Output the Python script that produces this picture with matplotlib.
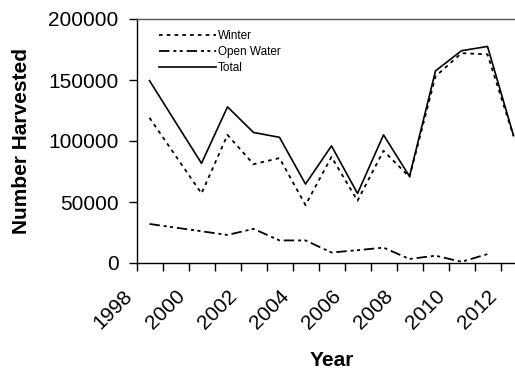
import matplotlib
matplotlib.use('Agg')
import matplotlib.pyplot as plt
import matplotlib.transforms as mtransforms

plt.rcParams['font.family'] = ['Liberation Sans', 'DejaVu Sans']
plt.rcParams['lines.scale_dashes'] = False

years = list(range(1998, 2013))
winter = [119000, 88000, 57000, 105000, 81000, 86000, 47500, 87000,
          51000, 92000, 70500, 153000, 172000, 171000, 104000]
open_water = [32000, 29000, 26000, 23000, 28000, 18500, 18500, 8600,
              10500, 12600, 3300, 6000, 1000, 7300, None]
total = [149500, 115500, 81700, 128000, 107000, 103000, 64700, 96000,
         57000, 105000, 71000, 157500, 174000, 177500, 104500]

tick_years = [str(y) if y % 2 == 0 else '' for y in years]

fig = plt.figure(figsize=(5.15, 3.69), dpi=100)
ax = fig.add_axes([136.5 / 515, 1 - 263 / 369, 390 / 515, 244 / 369])

x = list(range(len(years)))
ow_x = [i for i, v in zip(x, open_water) if v is not None]
ow_y = [v for v in open_water if v is not None]

ax.plot(x, winter, color='black', lw=1.3, dashes=(2.6, 3.0), label='Winter')
ax.plot(ow_x, ow_y, color='black', lw=1.3,
        dashes=(7.5, 2.8, 2.2, 2.4, 2.2, 2.8), label='Open Water')
ax.plot(x, total, color='black', lw=1.2, label='Total')

ax.set_xlim(-0.5, len(years) - 0.5)
ax.set_ylim(0, 200000)
ax.set_yticks([0, 50000, 100000, 150000, 200000])
ax.set_yticklabels(['0', '50000', '100000', '150000', '200000'])

# category boundaries carry the ticks, every other one is labelled
ax.set_xticks([i - 0.5 for i in x])
ax.set_xticklabels(tick_years, rotation=45, ha='right')
shift = mtransforms.ScaledTranslation(10 / 100, 0, fig.dpi_scale_trans)
for lab in ax.get_xticklabels():
    lab.set_transform(lab.get_transform() + shift)

ax.tick_params(axis='both', direction='out', length=6, width=1,
               labelsize=15, color='black')
ax.tick_params(axis='x', pad=11)
ax.tick_params(axis='y', pad=7)
for s in ax.spines.values():
    s.set_linewidth(1)
    s.set_color('black')
ax.spines['top'].set_color('#555555')

leg = ax.legend(loc='upper left', bbox_to_anchor=(0.058, 0.955),
                frameon=False, fontsize=8.5, handlelength=4.8,
                handletextpad=0.2, labelspacing=0.35, borderpad=0,
                borderaxespad=0)

fig.text(22 / 515, 1 - 141 / 369, 'Number Harvested', rotation=90,
         ha='center', va='center', fontsize=15, fontweight='bold')
fig.text(332 / 515, 1 - 360 / 369, 'Year', ha='center', va='center',
         fontsize=15, fontweight='bold')

fig.savefig('out.png', dpi=100)
